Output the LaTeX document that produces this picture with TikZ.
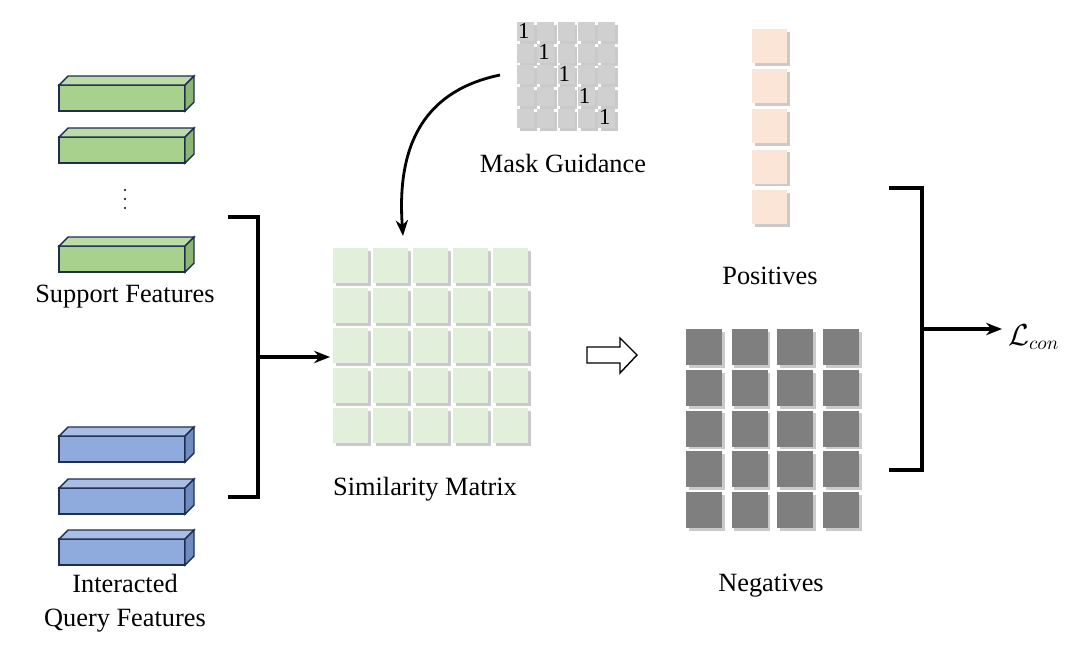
\documentclass[tikz,border=0pt]{standalone}
\usepackage{fontspec}
\setmainfont{Liberation Serif}
\usepackage{amsmath}
\usepackage{xcolor}
\usetikzlibrary{arrows.meta,positioning,calc,shadows}

\definecolor{simgreen}{HTML}{E2EFDA}
\definecolor{maskgray}{HTML}{D0D0D0}
\definecolor{posorange}{HTML}{FBE5D6}
\definecolor{neggray}{HTML}{7F7F7F}
\definecolor{barline}{HTML}{1F2E4F}
\definecolor{gfront}{HTML}{A9D18E}
\definecolor{gtop}{HTML}{BDDBA6}
\definecolor{gside}{HTML}{8DB574}
\definecolor{bfront}{HTML}{8FAADC}
\definecolor{btop}{HTML}{A8BEE6}
\definecolor{bside}{HTML}{6F8BC0}

\tikzset{
  cellbox/.style={rectangle, inner sep=0pt, draw=none,
    drop shadow={shadow xshift=1.6pt, shadow yshift=-1.6pt, fill=black!35, opacity=0.6}},
  simcell/.style={cellbox, fill=simgreen, minimum width=0.7cm, minimum height=0.7cm},
  maskcell/.style={cellbox, fill=maskgray, minimum width=0.34cm, minimum height=0.38cm},
  poscell/.style={cellbox, fill=posorange, minimum width=0.7cm, minimum height=0.68cm},
  negcell/.style={cellbox, fill=neggray, minimum width=0.72cm, minimum height=0.72cm},
  lbl/.style={font=\fontsize{15}{19}\selectfont, align=center},
  bracket/.style={line width=1.8pt},
  flow/.style={line width=1.8pt, -{Stealth[length=9pt,width=7pt]}}
}

\begin{document}
\begin{tikzpicture}[x=0.02cm, y=-0.02cm]
            \useasboundingbox (0,0) rectangle (1069,650);

            % Support features (green bars)
            \foreach \y in {85,137,246} {
              \filldraw[fill=gfront, draw=barline, thick] (59,\y) rectangle (185,\y+26);
              \filldraw[fill=gtop, draw=barline, thick] (59,\y) -- (68,\y-9) -- (194,\y-9) -- (185,\y) -- cycle;
              \filldraw[fill=gside, draw=barline, thick] (185,\y) -- (194,\y-9) -- (194,\y+17) -- (185,\y+26) -- cycle;
            }
            \foreach \y in {190,199,208} \fill (125,\y) circle (1.1);
            \node[lbl] (suplbl) at (125,297) {Support Features};

            % Interacted query features (blue bars)
            \foreach \y in {436,488,539} {
              \filldraw[fill=bfront, draw=barline, thick] (59,\y) rectangle (185,\y+26);
              \filldraw[fill=btop, draw=barline, thick] (59,\y) -- (68,\y-9) -- (194,\y-9) -- (185,\y) -- cycle;
              \filldraw[fill=bside, draw=barline, thick] (185,\y) -- (194,\y-9) -- (194,\y+17) -- (185,\y+26) -- cycle;
            }
            \node[lbl] (qrylbl) at (125,603) {Interacted\\Query Features};

            % Similarity matrix
            \foreach \i in {0,...,4}
              \foreach \j in {0,...,4}
                \node[simcell] (s-\i-\j) at (350.5+40*\i, 265.5+40*\j) {};
            \node[lbl] (simlbl) at (425,489) {Similarity Matrix};

            % Mask guidance
            \foreach \i in {0,...,4}
              \foreach \j in {0,...,4}
                \node[maskcell] (m-\i-\j) at (525.5+20.3*\i, 31.5+21.7*\j) {};
            \foreach \k in {0,...,4}
              \node[anchor=north west, inner sep=0pt, font=\fontsize{13}{13}\selectfont]
                (one-\k) at ($(m-\k-\k.north west)+(1,1)$) {1};
            \node[lbl] (masklbl) at (563,163) {Mask Guidance};

            % Positives
            \foreach \j in {0,...,4}
              \node[poscell] (p-\j) at (769.5, 46+40.2*\j) {};
            \node[lbl] (poslbl) at (770,276) {Positives};

            % Negatives
            \foreach \i in {0,...,3}
              \foreach \j in {0,...,4}
                \node[negcell] (n-\i-\j) at (704+45.6*\i, 347+40.8*\j) {};
            \node[lbl] (neglbl) at (771,586) {Negatives};

            % Left bracket into similarity matrix
            \coordinate (lb-top) at (230,217);
            \coordinate (lb-bot) at (230,497);
            \coordinate (lb-mid) at (258,357);
            \coordinate (sim-in) at (330,357);
            \draw[bracket, line cap=rect] (lb-top) -- ++(28,0) |- (lb-bot);
            \draw[flow] (lb-mid) -- (sim-in);

            % Mask guidance into similarity matrix
            \coordinate (mask-out) at (500,75);
            \coordinate (sim-top) at (403,236);
            \draw[line width=1.6pt, -{Stealth[length=9pt,width=7pt]}] (mask-out) .. controls (428,90) and (396,140) .. (sim-top);

            % Hollow arrow
            \draw[thick, fill=white] (587,347) -- (620,347) -- (620,338) -- (637,355) -- (620,373) -- (620,363) -- (587,363) -- cycle;

            % Right bracket to loss
            \coordinate (rb-top) at (891,188);
            \coordinate (rb-bot) at (891,470);
            \coordinate (rb-mid) at (922,329);
            \node[anchor=west] (loss) at (1002,337) {\fontsize{16}{16}\selectfont$\mathcal{L}_{con}$};
            \draw[bracket, line cap=rect] (rb-top) -- ++(31,0) |- (rb-bot);
            \draw[flow] (rb-mid) -- (rb-mid -| loss.west);
\end{tikzpicture}
\end{document}
